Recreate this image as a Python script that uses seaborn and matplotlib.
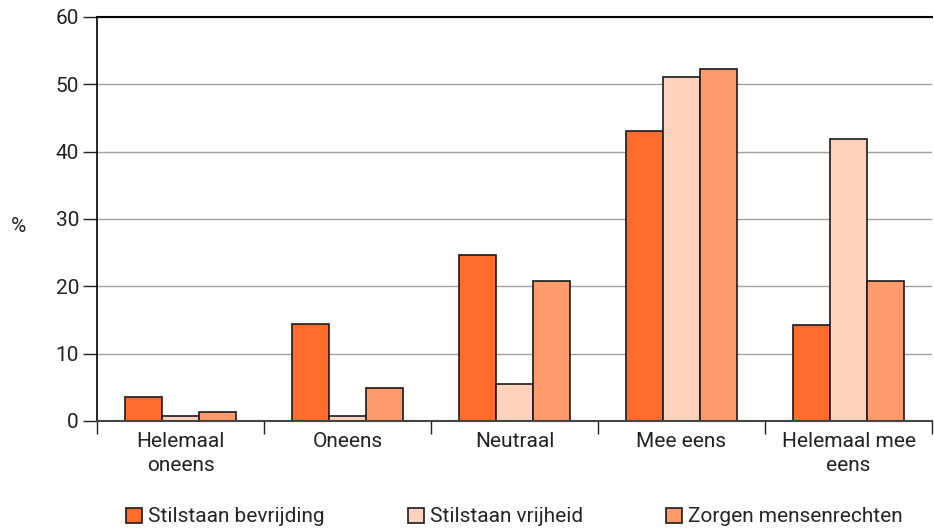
import matplotlib
matplotlib.use("Agg")
import matplotlib.pyplot as plt
import seaborn as sns
import pandas as pd

categories = ["Helemaal\noneens", "Oneens", "Neutraal", "Mee eens", "Helemaal mee\neens"]
series_names = ["Stilstaan bevrijding", "Stilstaan vrijheid", "Zorgen mensenrechten"]
bevrijding = [3.5, 14.4, 24.7, 43.1, 14.3]
vrijheid = [0.7, 0.7, 5.5, 51.1, 41.9]
mensenrechten = [1.3, 4.9, 20.8, 52.3, 20.8]
colors = ["#FF6C2C", "#FFD2BE", "#FF9A6A"]
yticks = [0, 10, 20, 30, 40, 50, 60]

rows = []
for name, vals in zip(series_names, [bevrijding, vrijheid, mensenrechten]):
    for c, v in zip(categories, vals):
        rows.append({"cat": c, "serie": name, "val": v})
df = pd.DataFrame(rows)

sns.set_theme(style="white")
plt.rcParams['font.family'] = ['Roboto', 'DejaVu Sans']

FS = 15
TC = "#222222"

fig = plt.figure(figsize=(9.34, 5.28), dpi=100)
ax = fig.add_axes([97/934, 1-421/528, (932-97)/934, (421-17)/528])

sns.barplot(data=df, x="cat", y="val", hue="serie", order=categories,
            hue_order=series_names, palette=colors, width=0.67,
            edgecolor="#1a1a1a", linewidth=1.2, saturation=1, ax=ax, legend=True)

ax.set_ylim(0, 60)
ax.set_xlim(-0.5, 4.5)
ax.set_yticks(yticks)
ax.set_yticklabels([str(t) for t in yticks], fontsize=FS, color=TC)
ax.yaxis.grid(True, color="#a0a0a0", linewidth=1)
ax.set_axisbelow(True)
ax.set_xlabel("")
ax.set_ylabel("")
fig.text(18/934, 1-226/528, "%", fontsize=FS, color=TC, ha="center", va="center")

ax.set_xticks(range(len(categories)))
ax.set_xticklabels(categories, fontsize=FS, color=TC, linespacing=1.35)
ax.set_xticks([i - 0.5 for i in range(len(categories) + 1)], minor=True)
ax.tick_params(axis="x", which="major", bottom=True, length=0, pad=8)
ax.tick_params(axis="x", which="minor", bottom=True, length=9, width=1, color=TC, direction="out")
ax.tick_params(axis="y", which="major", left=True, length=10, width=1, color=TC, direction="out", pad=3)

ax.spines["right"].set_visible(False)
ax.spines["top"].set_color("black")
ax.spines["top"].set_linewidth(1.5)
ax.spines["left"].set_color("black")
ax.spines["left"].set_linewidth(1.2)
ax.spines["bottom"].set_color("#444444")
ax.spines["bottom"].set_linewidth(1.5)

leg = ax.legend(loc="center", bbox_to_anchor=(0.5, (421-517)/404), ncol=3, frameon=False,
                fontsize=FS, handlelength=0.75, handleheight=0.75, handletextpad=0.3,
                columnspacing=4.0, borderpad=0)

fig.savefig("out.png", dpi=100)
